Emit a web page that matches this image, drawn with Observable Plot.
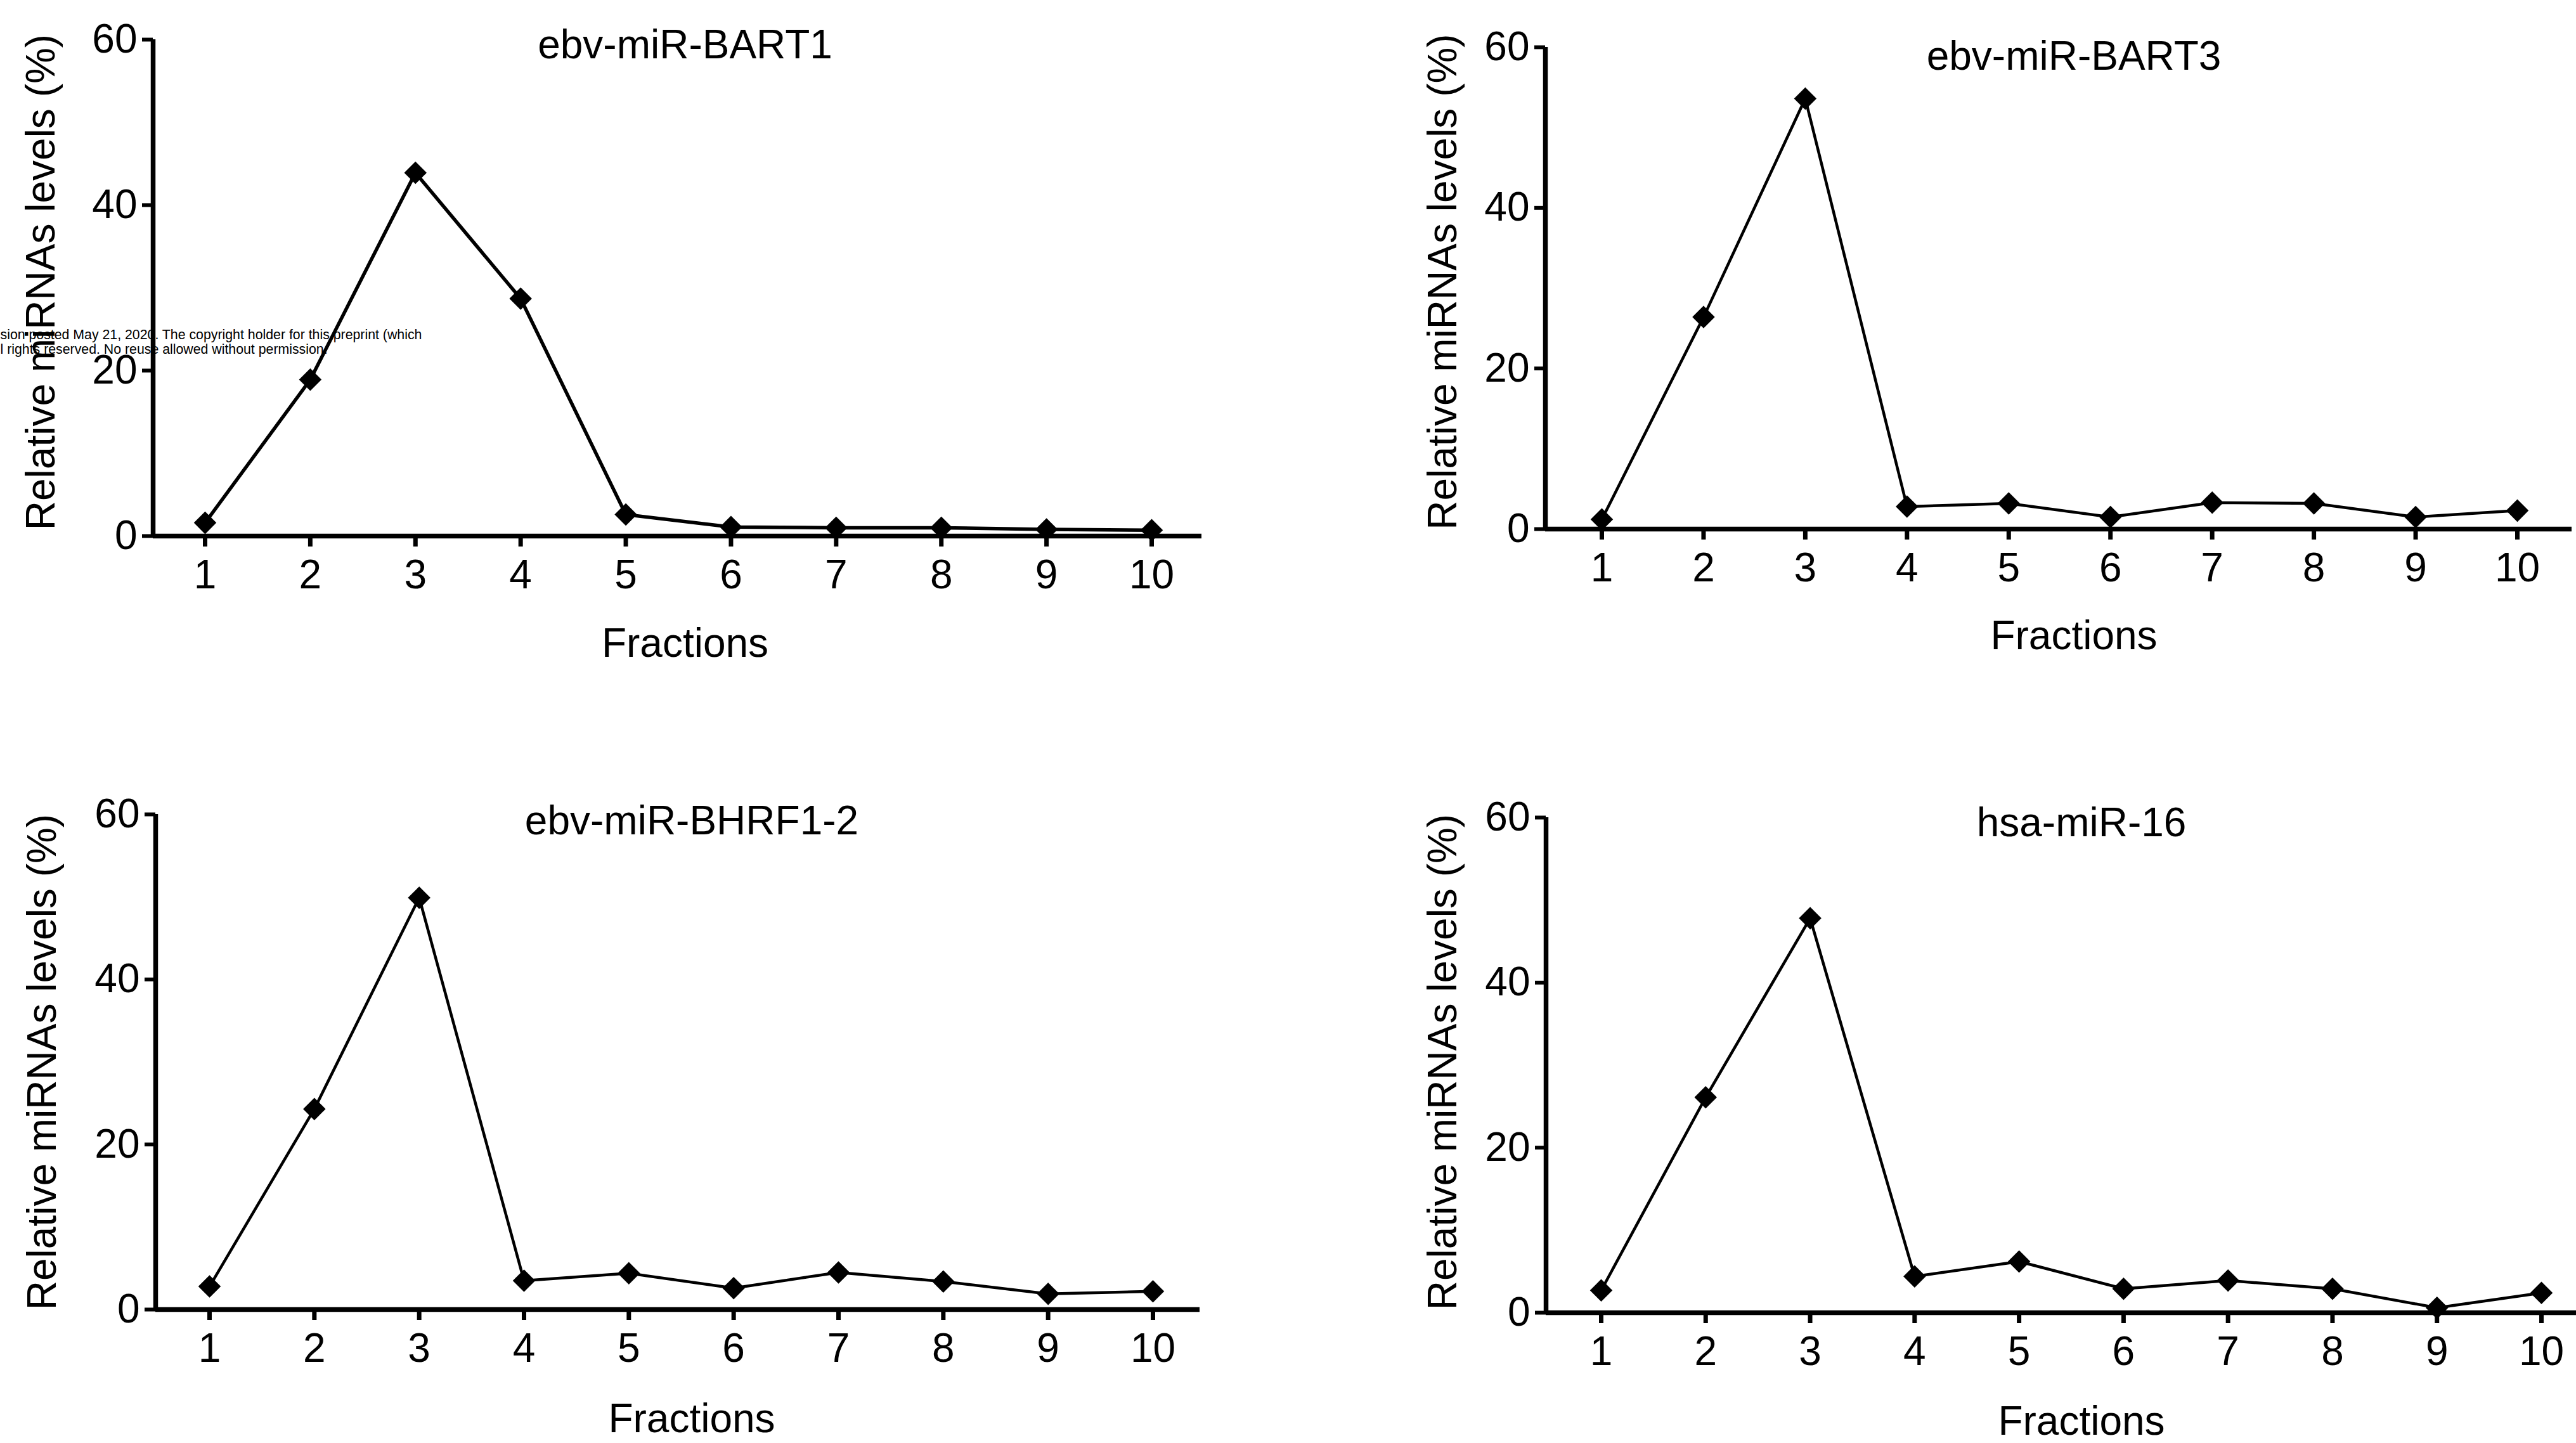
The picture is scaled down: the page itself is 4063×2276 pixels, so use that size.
<!DOCTYPE html>
<html>
<head>
<meta charset="utf-8">
<script src="https://cdn.jsdelivr.net/npm/d3@7"></script>
<script src="https://cdn.jsdelivr.net/npm/@observablehq/plot@0.6"></script>
<style>
html, body { margin: 0; padding: 0; background: #fff; }
#page { position: relative; width: 4063px; height: 2276px; overflow: hidden; background: #fff; }
.panel { position: absolute; }
.panel svg { max-width: none; display: block; }
</style>
</head>
<body>
<div id="page"></div>
<script>
// ---- data ----
const fractions = [1, 2, 3, 4, 5, 6, 7, 8, 9, 10];
const titles = ["ebv-miR-BART1", "ebv-miR-BART3", "ebv-miR-BHRF1-2", "hsa-miR-16"];
const bart1 = [1.6, 18.9, 43.9, 28.7, 2.6, 1.1, 1.0, 1.0, 0.8, 0.7];
const bart3 = [1.2, 26.4, 53.6, 2.8, 3.2, 1.5, 3.3, 3.2, 1.5, 2.3];
const bhrf12 = [2.8, 24.3, 49.9, 3.5, 4.4, 2.6, 4.5, 3.4, 1.9, 2.2];
const mir16 = [2.7, 26.1, 47.8, 4.4, 6.2, 2.9, 3.9, 2.9, 0.6, 2.4];
const yTicks = [0, 20, 40, 60];
const yLabel = "Relative miRNAs levels (%)";
const xLabel = "Fractions";
const notice = [
  "sion posted May 21, 2020. The copyright holder for this preprint (which",
  "l rights reserved. No reuse allowed without permission."
];
const series = [bart1, bart3, bhrf12, mir16];

// ---- layout (page pixels) ----
const layout = [
  {left: 0,    top: 0,    w: 2031, h: 1138, axisX: 241,  tick1: 323,  tick10: 1816, xEnd: 1895, y60: 62,   y0: 845,  lw: 5.5, tdx: 12, tdy: 29, lx: 65,   ldy: -9,  fdy: 190},
  {left: 2031, top: 0,    w: 2032, h: 1138, axisX: 2437, tick1: 2526, tick10: 3970, xEnd: 4056, y60: 74,   y0: 834,  lw: 4.5, tdx: 24, tdy: 35, lx: 2276, ldy: -10, fdy: 189},
  {left: 0,    top: 1138, w: 2031, h: 1138, axisX: 245,  tick1: 330,  tick10: 1818, xEnd: 1892, y60: 1284, y0: 2065, lw: 4.5, tdx: 22, tdy: 31, lx: 67,   ldy: 0,   fdy: 193},
  {left: 2031, top: 1138, w: 2032, h: 1138, axisX: 2438, tick1: 2525, tick10: 4008, xEnd: 4063, y60: 1289, y0: 2070, lw: 4.5, tdx: 32, tdy: 29, lx: 2276, ldy: -5,  fdy: 192}
];

const font = "'Liberation Sans', Arial, Helvetica, sans-serif";
const page = document.getElementById("page");

layout.forEach((L, k) => {
  const unit = (L.tick10 - L.tick1) / 9;
  const xDomain = [1 - (L.tick1 - L.axisX) / unit, 10 + (L.xEnd - L.tick10) / unit];
  const rows = fractions.map((f, i) => ({fraction: f, level: series[k][i]}));
  const marks = [
    Plot.ruleY([0], {stroke: "#000", strokeWidth: 7.5}),
    Plot.ruleX([xDomain[0]], {y1: 0, y2: 60, stroke: "#000", strokeWidth: 7.5}),
    Plot.axisX({ticks: fractions, tickSize: 17, tickPadding: 20, strokeWidth: 7, fontSize: 64, label: null, tickFormat: d => String(d)}),
    Plot.axisY({ticks: yTicks, tickSize: 17, tickPadding: 8, strokeWidth: 6, fontSize: 64, label: null, tickFormat: d => String(d)}),
    Plot.line(rows, {x: "fraction", y: "level", stroke: "#000", strokeWidth: L.lw}),
    Plot.dot(rows, {x: "fraction", y: "level", symbol: "diamond2", r: 16, fill: "#000", stroke: "none"}),
    Plot.text([titles[k]], {text: d => d, frameAnchor: "top", dx: L.tdx, dy: L.tdy, lineAnchor: "bottom", fontSize: 64}),
    Plot.text([xLabel], {text: d => d, frameAnchor: "bottom", dx: L.tdx, dy: L.fdy, lineAnchor: "bottom", fontSize: 64}),
    Plot.text([yLabel], {text: d => d, frameAnchor: "left", rotate: -90, dx: L.lx - L.axisX, dy: L.ldy, lineAnchor: "middle", textAnchor: "middle", fontSize: 64})
  ];
  if (k === 0) {
    marks.push(
      Plot.text([notice[0]], {text: d => d, frameAnchor: "top-left", textAnchor: "start", lineAnchor: "bottom", dx: -L.axisX, dy: 534 - L.y60, fontSize: 21.3}),
      Plot.text([notice[1]], {text: d => d, frameAnchor: "top-left", textAnchor: "start", lineAnchor: "bottom", dx: -L.axisX, dy: 557 - L.y60, fontSize: 21.3})
    );
  }
  const chart = Plot.plot({
    width: L.w,
    height: L.h,
    marginLeft: L.axisX - L.left,
    marginRight: L.left + L.w - L.xEnd,
    marginTop: L.y60 - L.top,
    marginBottom: L.top + L.h - L.y0,
    x: {type: "linear", domain: xDomain},
    y: {type: "linear", domain: [0, 60]},
    style: {fontFamily: font, fontSize: "64px", background: "transparent", color: "#000"},
    marks
  });
  const div = document.createElement("div");
  div.className = "panel";
  div.style.left = L.left + "px";
  div.style.top = L.top + "px";
  div.style.width = L.w + "px";
  div.style.height = L.h + "px";
  div.appendChild(chart);
  page.appendChild(div);
});
</script>
</body>
</html>
